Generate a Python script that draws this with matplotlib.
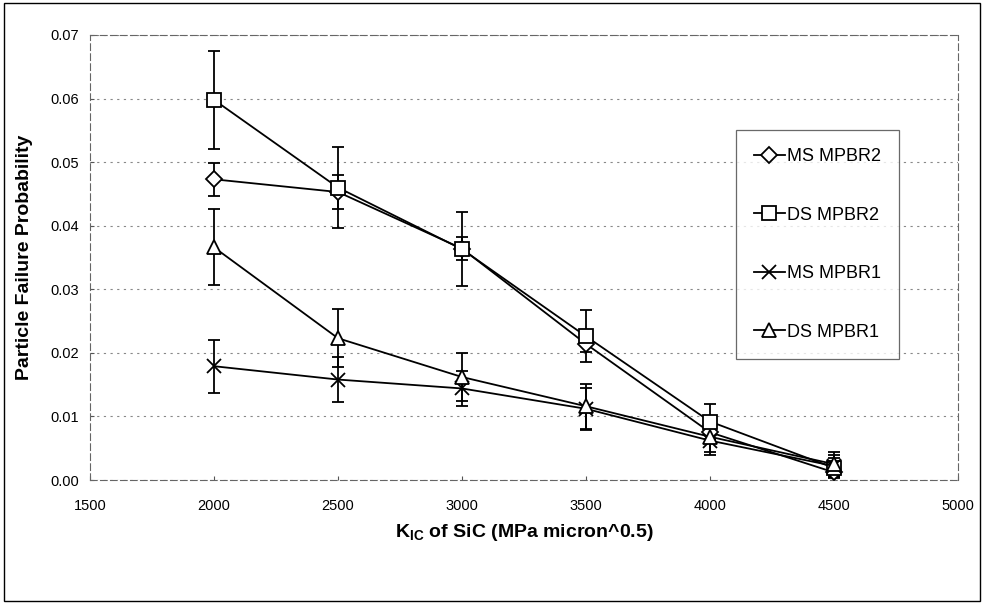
import matplotlib
matplotlib.use("Agg")
import matplotlib.pyplot as plt
from matplotlib.patches import Rectangle

plt.rcParams['font.family'] = ['Liberation Sans', 'DejaVu Sans']
plt.rcParams['mathtext.fontset'] = 'custom'
plt.rcParams['mathtext.rm'] = 'Liberation Sans'
plt.rcParams['mathtext.bf'] = 'Liberation Sans:bold'

kic = [2000, 2500, 3000, 3500, 4000, 4500]

ms_mpbr2 = [0.0473, 0.0453, 0.0364, 0.0214, 0.0075, 0.0012]
ms_mpbr2_err = [0.0026, 0.0026, 0.0018, 0.0013, 0.0012, 0.0008]

ds_mpbr2 = [0.0598, 0.0460, 0.0363, 0.0226, 0.0092, 0.0019]
ds_mpbr2_err = [0.0077, 0.0064, 0.0058, 0.0041, 0.0028, 0.0016]

ms_mpbr1 = [0.0179, 0.0158, 0.0144, 0.0112, 0.0062, 0.0022]
ms_mpbr1_err = [0.0042, 0.0036, 0.0027, 0.0033, 0.0022, 0.0018]

ds_mpbr1 = [0.0366, 0.0223, 0.0162, 0.0116, 0.0068, 0.0025]
ds_mpbr1_err = [0.0060, 0.0046, 0.0037, 0.0035, 0.0024, 0.0019]

labels = ["MS MPBR2", "DS MPBR2", "MS MPBR1", "DS MPBR1"]

fig = plt.figure(figsize=(9.84, 6.05), dpi=100)
ax = fig.add_axes([90/984, 1-480/605, (958-90)/984, (480-35)/605])

series = [
    (ms_mpbr2, ms_mpbr2_err, 'D', 8, 'white'),
    (ds_mpbr2, ds_mpbr2_err, 's', 10, 'white'),
    (ms_mpbr1, ms_mpbr1_err, 'x', 10, 'black'),
    (ds_mpbr1, ds_mpbr1_err, '^', 10, 'white'),
]
handles = []
for (vals, err, mk, ms, fc), lab in zip(series, labels):
    ax.errorbar(kic, vals, yerr=err, fmt='none', ecolor='black',
                elinewidth=1.3, capsize=4, capthick=1.3, zorder=2)
    h, = ax.plot(kic, vals, color='black', lw=1.3, marker=mk, markersize=ms,
                 markerfacecolor=fc, markeredgecolor='black',
                 markeredgewidth=1.3, label=lab, zorder=3)
    handles.append(h)

ax.set_xlim(1500, 5000)
ax.set_ylim(0, 0.07)
ax.set_xticks(range(1500, 5001, 500))
ax.set_yticks([i/100 for i in range(8)])
ax.set_yticklabels([f"{i/100:.2f}" for i in range(8)])
ax.tick_params(axis='both', labelsize=10.5, length=3, color='#555555', direction='in')
ax.tick_params(axis='x', pad=14)
ax.tick_params(axis='y', pad=8)
ax.grid(axis='y', color='#888888', linestyle=(0, (2, 4)), linewidth=0.8)
for s in ax.spines.values():
    s.set_color('#666666')
    s.set_linestyle((0, (6, 3)))
    s.set_linewidth(0.8)

ax.set_xlabel(r'$\mathbf{K}_{\mathbf{IC}}$ of SiC (MPa micron^0.5)',
              fontsize=14, fontweight='bold', labelpad=6)
ax.set_ylabel('Particle Failure Probability', fontsize=14, fontweight='bold', labelpad=12)

leg = ax.legend(handles=handles, loc='upper left',
                bbox_to_anchor=((736-90)/868, 1-(130-35)/445),
                fontsize=13, labelspacing=2.3, handlelength=1.7,
                handletextpad=0.1, borderpad=1.0, borderaxespad=0,
                frameon=True, fancybox=False)
leg.get_frame().set_edgecolor('#444444')
leg.get_frame().set_linewidth(0.9)

fig.patches.append(Rectangle((4/984, 4/605), 976/984, 598/605, transform=fig.transFigure,
                             fill=False, edgecolor='black', linewidth=1.0))

fig.savefig('out.png', dpi=100)
